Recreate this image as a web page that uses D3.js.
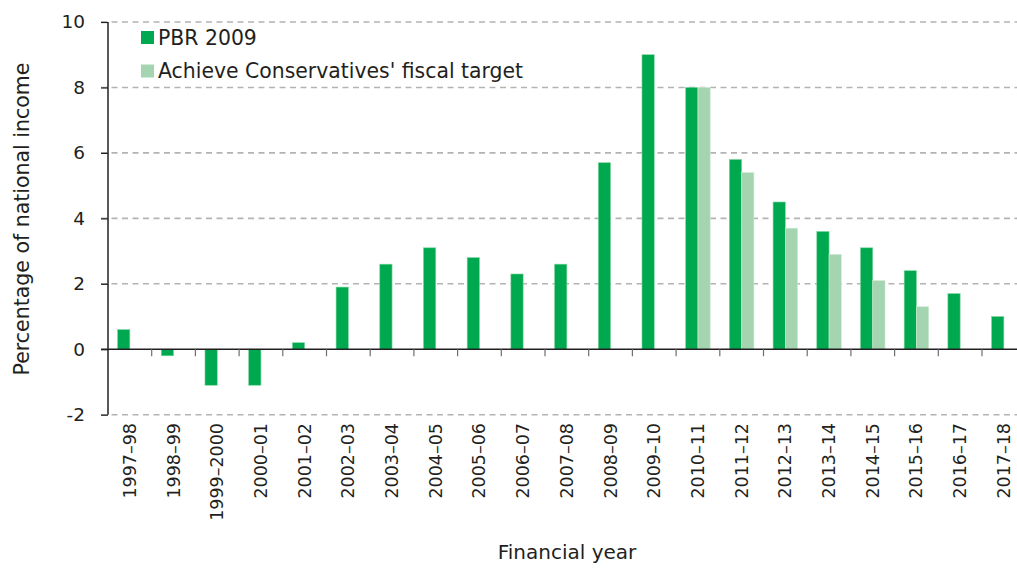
<!DOCTYPE html>
<html>
<head>
<meta charset="utf-8">
<script src="https://cdn.jsdelivr.net/npm/d3@7"></script>
<style>
  body { margin: 0; background: #fff; }
  svg text { font-family: "DejaVu Sans", sans-serif; fill: #231f20; }
</style>
</head>
<body>
<div id="chart"></div>
<script>
var years = ["1997–98", "1998–99", "1999–2000", "2000–01", "2001–02", "2002–03",
        "2003–04", "2004–05", "2005–06", "2006–07", "2007–08", "2008–09", "2009–10",
        "2010–11", "2011–12", "2012–13", "2013–14", "2014–15", "2015–16", "2016–17", "2017–18"];
var pbr2009 = [0.6, -0.2, -1.1, -1.1, 0.2, 1.9, 2.6, 3.1, 2.8, 2.3, 2.6, 5.7, 9.0,
        8.0, 5.8, 4.5, 3.6, 3.1, 2.4, 1.7, 1.0];
var conservative = [null, null, null, null, null, null, null, null, null, null, null, null, null,
        8.0, 5.4, 3.7, 2.9, 2.1, 1.3, null, null];
var seriesNames = ["PBR 2009", "Achieve Conservatives' fiscal target"];
var seriesColors = ["#00a84f", "#a5d5b0"];
var yTicks = [-2, 0, 2, 4, 6, 8, 10];

var W = 1017, H = 568;

var svg = d3.select("#chart").append("svg")
        .attr("width", W)
        .attr("height", H);

var x = d3.scaleBand()
        .domain(years)
        .range([108, 1025.7])
        .paddingInner(0)
        .paddingOuter(0);

var xs = d3.scaleBand()
        .domain([0, 1])
        .range([0, x.bandwidth()])
        .paddingInner(0)
        .paddingOuter(0.78);

var y = d3.scaleLinear()
        .domain([-2, 10])
        .range([414.7, 22]);

// gridlines
svg.append("g")
        .selectAll("line")
        .data(yTicks.filter(function(d) { return d != 0; }))
        .join("line")
        .attr("x1", 101)
        .attr("x2", W)
        .attr("y1", function(d) { return y(d); })
        .attr("y2", function(d) { return y(d); })
        .style("stroke", "#b3b3b3")
        .style("stroke-width", "1.6px")
        .style("stroke-dasharray", "6,4.5");

// bars
var rows = [];
for (var i = 0; i < years.length; i++) {
        rows.push({ "year": years[i], "s": 0, "v": pbr2009[i] });
        if (conservative[i] != null) {
                rows.push({ "year": years[i], "s": 1, "v": conservative[i] });
        }
}

svg.append("g")
        .selectAll("rect")
        .data(rows)
        .join("rect")
        .attr("x", function(d) { return x(d.year) + xs(d.s); })
        .attr("width", xs.bandwidth())
        .attr("y", function(d) { return y(Math.max(0, d.v)); })
        .attr("height", function(d) { return Math.abs(y(d.v) - y(0)); })
        .style("fill", function(d) { return seriesColors[d.s]; })
        .style("stroke", function(d) { return d.s == 0 ? "#7fd6a0" : "#d2ecd8"; })
        .style("stroke-width", "0.6px");

// zero line
svg.append("line")
        .attr("x1", 101)
        .attr("x2", W)
        .attr("y1", y(0))
        .attr("y2", y(0))
        .style("stroke", "#231f20")
        .style("stroke-width", "1.5px");

// category ticks at band boundaries
svg.append("g")
        .selectAll("line")
        .data(years.slice(1))
        .join("line")
        .attr("x1", function(d) { return x(d); })
        .attr("x2", function(d) { return x(d); })
        .attr("y1", y(0))
        .attr("y2", y(0) + 7)
        .style("stroke", "#6d6e71")
        .style("stroke-width", "1.2px");

// y axis
var yAxis = d3.axisLeft(y)
        .tickValues(yTicks)
        .tickSize(7)
        .tickPadding(16)
        .tickFormat(function(d) { return String(d); });

var ya = svg.append("g")
        .attr("transform", "translate(108,0)")
        .call(yAxis);
ya.select(".domain").remove();
ya.selectAll("line").style("stroke", "#231f20").style("stroke-width", "1.2px");
ya.selectAll("text")
        .style("font-size", "18.5px")
        .style("font-family", "'DejaVu Sans', sans-serif")
        .attr("fill", "#231f20");

svg.append("line")
        .attr("x1", 108)
        .attr("x2", 108)
        .attr("y1", y(10))
        .attr("y2", y(-2))
        .style("stroke", "#231f20")
        .style("stroke-width", "1.5px");

// x labels
svg.append("g")
        .selectAll("text")
        .data(years)
        .join("text")
        .attr("transform", function(d) {
                return "translate(" + (x(d) + x.bandwidth() / 2 + 6) + ",423) rotate(-90)";
        })
        .attr("text-anchor", "end")
        .style("font-size", "17.5px")
        .text(function(d) { return d; });

svg.append("text")
        .attr("x", 567)
        .attr("y", 559)
        .attr("text-anchor", "middle")
        .style("font-size", "20px")
        .text("Financial year");

svg.append("text")
        .attr("transform", "translate(29,219) rotate(-90)")
        .attr("text-anchor", "middle")
        .style("font-size", "20.5px")
        .text("Percentage of national income");

// legend
var legend = svg.append("g");
seriesNames.forEach(function(name, k) {
        var cy = 37.5 + k * 33.5;
        legend.append("rect")
                .attr("x", 141)
                .attr("y", cy - 6.5)
                .attr("width", 13)
                .attr("height", 13)
                .style("fill", seriesColors[k]);
        legend.append("text")
                .attr("x", 158)
                .attr("y", cy + 7)
                .style("font-size", "20.4px")
                .text(name);
});
</script>
</body>
</html>
